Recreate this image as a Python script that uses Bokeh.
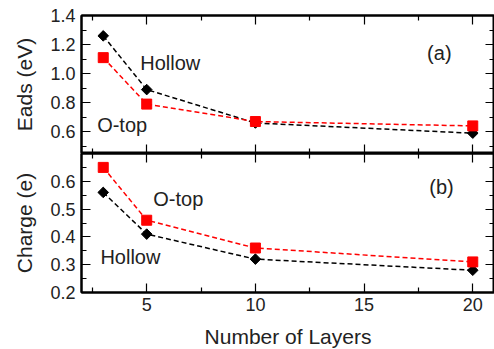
import math
from bokeh.plotting import figure
from bokeh.layouts import column
from bokeh.models import LinearAxis, FixedTicker, Range1d, Label
from bokeh.embed import file_html
from bokeh.resources import INLINE

layers = [3, 5, 10, 20]
eads_hollow = [1.26, 0.89, 0.66, 0.59]
eads_otop = [1.11, 0.79, 0.67, 0.64]
charge_hollow = [0.56, 0.41, 0.32, 0.28]
charge_otop = [0.65, 0.46, 0.36, 0.31]

x_major = [5, 10, 15, 20]
x_minor = [2.5, 7.5, 12.5, 17.5]
eads_major = [0.6, 0.8, 1.0, 1.2, 1.4]
eads_minor = [0.5, 0.7, 0.9, 1.1, 1.3]
charge_major = [0.2, 0.3, 0.4, 0.5, 0.6]
charge_minor = [0.25, 0.35, 0.45, 0.55, 0.65]
x_title = "Number of Layers"

FONT = "Liberation Sans"
TXT = "#222222"
W = 494


def style_axis(ax, ticks, minor, show_labels, fmt=None):
    ax.ticker = FixedTicker(ticks=ticks, minor_ticks=minor)
    ax.major_tick_in = 9
    ax.major_tick_out = 0
    ax.minor_tick_in = 5
    ax.minor_tick_out = 0
    ax.major_tick_line_width = 1.2
    ax.minor_tick_line_width = 1.2
    ax.axis_line_width = 2
    ax.axis_line_color = "black"
    ax.major_tick_line_color = "black"
    ax.minor_tick_line_color = "black"
    ax.major_label_text_font = FONT
    ax.major_label_text_color = TXT
    ax.axis_label_text_font = FONT
    ax.axis_label_text_font_style = "normal"
    ax.axis_label_text_color = TXT
    ax.axis_label_text_font_size = "21px"
    if show_labels:
        ax.major_label_text_font_size = "18px"
        ax.major_label_standoff = 6
        if fmt:
            ax.major_label_overrides = {t: fmt(t) for t in ticks}
    else:
        ax.major_label_overrides = {t: "" for t in ticks}
        ax.major_label_text_font_size = "0px"
        ax.major_label_standoff = 0


def make_panel(height, top, bottom, y0, y1, ymaj, ymin, ylabel, show_x):
    p = figure(width=W, height=height, output_backend="svg", toolbar_location=None,
               x_range=Range1d(2, 21), y_range=Range1d(y0, y1),
               x_axis_location=None, y_axis_location=None,
               min_border_left=81, min_border_right=0,
               min_border_top=top, min_border_bottom=bottom)
    p.outline_line_color = "black"
    p.outline_line_width = 2
    p.xgrid.visible = False
    p.ygrid.visible = False
    p.background_fill_color = "white"
    p.border_fill_color = "white"

    left = LinearAxis(axis_label=ylabel)
    style_axis(left, ymaj, ymin, True, lambda t: f"{t:.1f}")
    left.axis_label_standoff = 11
    p.add_layout(left, "left")

    right = LinearAxis()
    style_axis(right, ymaj, ymin, False)
    p.add_layout(right, "right")

    topax = LinearAxis()
    style_axis(topax, x_major, x_minor, False)
    p.add_layout(topax, "above")

    bot = LinearAxis()
    style_axis(bot, x_major, x_minor, show_x, lambda t: f"{t:d}")
    if show_x:
        bot.major_label_standoff = 5
    p.add_layout(bot, "below")
    return p


def draw(p, yh, yo):
    p.line(layers, yh, line_color="black", line_width=1.5, line_dash="5 3")
    p.scatter(layers, yh, marker="square", angle=math.pi / 4, size=7.5,
              fill_color="black", line_color="black")
    p.line(layers, yo, line_color="red", line_width=1.5, line_dash="5 3")
    p.scatter(layers, yo, marker="square", size=10, fill_color="red", line_color="red")


def label(p, x, y, text, anchor="left", size="20px"):
    p.add_layout(Label(x=x, y=y, text=text, text_font=FONT, text_font_size=size,
                       text_color=TXT, text_baseline="middle", text_align=anchor))


p1 = make_panel(153, 15, 0, 0.45, 1.4, eads_major, eads_minor, "Eads (eV)", False)
draw(p1, eads_hollow, eads_otop)
label(p1, 4.7, 1.07, "Hollow")
label(p1, 2.72, 0.646, "O-top")
label(p1, 17.9, 1.14, "(a)")

p2 = make_panel(169, 0, 30, 0.2, 0.7, charge_major, charge_minor, "Charge (e)", True)
draw(p2, charge_hollow, charge_otop)
label(p2, 5.3, 0.537, "O-top")
label(p2, 2.87, 0.326, "Hollow")
label(p2, 18.0, 0.581, "(b)")

# strip holding the shared x-axis title, aligned with the panels' frame
p3 = figure(width=W, height=27, output_backend="svg", toolbar_location=None,
            x_range=Range1d(2, 21), y_range=Range1d(0, 1),
            x_axis_location=None, y_axis_location=None,
            min_border_left=81, min_border_right=0, min_border_top=0, min_border_bottom=0)
p3.outline_line_color = None
p3.xgrid.visible = False
p3.ygrid.visible = False
label(p3, 11.5, 0.5, x_title, anchor="center", size="21px")

layout = column(p1, p2, p3, spacing=0)
open("out.html", "w").write(file_html(layout, INLINE))
